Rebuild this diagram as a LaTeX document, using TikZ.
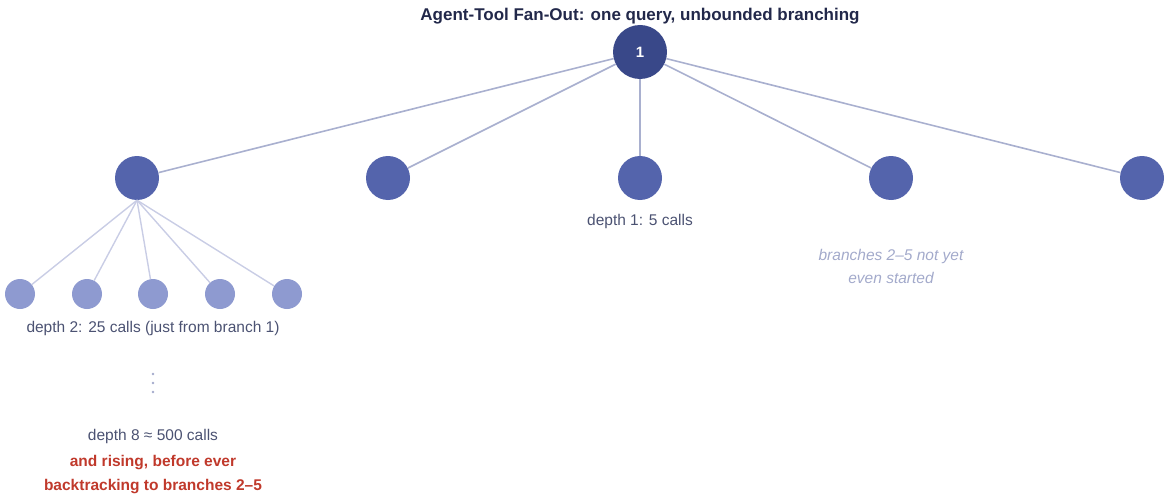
\documentclass[tikz,border=0pt]{standalone}
\usepackage{fontspec}
\setmainfont{Liberation Sans}
\definecolor{root}{HTML}{394889}
\definecolor{d1}{HTML}{5464AC}
\definecolor{d2}{HTML}{8E9AD0}
\definecolor{l1}{HTML}{A9B0CF}
\definecolor{l2}{HTML}{C9CDE5}
\definecolor{txt}{HTML}{4B5272}
\definecolor{ttl}{HTML}{22284A}
\definecolor{red}{HTML}{C0392B}
\definecolor{faint}{HTML}{A3AACB}
\begin{document}
\begin{tikzpicture}[x=1pt,y=-1pt,
  n0/.style={circle,fill=root,minimum size=54pt,inner sep=0pt,text=white,font=\bfseries\fontsize{15}{18}\selectfont},
  n1/.style={circle,fill=d1,minimum size=44pt,inner sep=0pt},
  n2/.style={circle,fill=d2,minimum size=30pt,inner sep=0pt},
  e1/.style={l1,line width=1.6pt},
  e2/.style={l2,line width=1.4pt},
  lab/.style={text=txt,font=\fontsize{15.5}{18}\selectfont,align=center}]
\useasboundingbox (0,0) rectangle (1169,500);
\node[font=\bfseries\fontsize{17}{20}\selectfont,text=ttl] (title) at (640,16) {Agent-Tool Fan-Out: one query, unbounded branching};
\node[n0] (r) at (640,52) {1};
\foreach \i/\x in {1/137,2/388,3/640,4/891,5/1142}{\node[n1] (a\i) at (\x,178) {};}
\foreach \i/\x in {1/20,2/87,3/153,4/220,5/287}{\node[n2] (b\i) at (\x,294) {};}
\foreach \i in {1,...,5}{\draw[e1] (r) -- (a\i);}
\foreach \i in {1,...,5}{\draw[e2] (a1.south) -- (b\i);}
\node[lab] (t1) at (640,221) {depth 1: 5 calls};
\node[text=faint,font=\itshape\fontsize{15.5}{23}\selectfont,align=center] (t2) at (891,266) {branches 2–5 not yet\\even started};
\node[lab] (t3) at (153,328) {depth 2: 25 calls (just from branch 1)};
\foreach \y in {374,383,392}{\fill[faint] (153,\y) circle (1.3pt);}
\node[lab] (t4) at (153,436) {depth 8 ≈ 500 calls};
\node[text=red,font=\bfseries\fontsize{15.5}{24}\selectfont,align=center] (t5) at (153,475) {and rising, before ever\\backtracking to branches 2–5};
\end{tikzpicture}
\end{document}
